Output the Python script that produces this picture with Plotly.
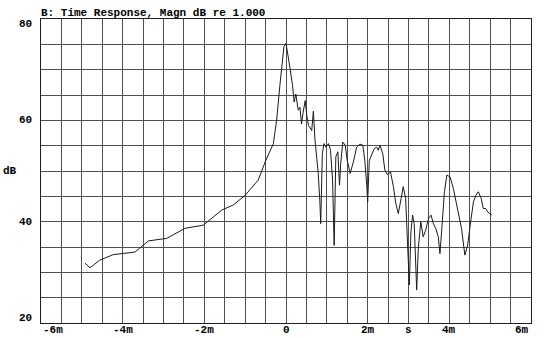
import plotly.graph_objects as go

# time in ms, magnitude in dB
time_ms = [-4.92, -4.80, -4.56, -4.23, -3.70, -3.37, -2.92, -2.47, -2.03, -1.57, -1.29, -1.00,
           -0.68, -0.51, -0.31, -0.23, -0.15, -0.08, -0.05, 0.00, 0.03, 0.10, 0.16, 0.20, 0.24,
           0.30, 0.34, 0.38, 0.42, 0.47, 0.51, 0.55, 0.63, 0.67, 0.71, 0.79, 0.83, 0.85, 0.89,
           0.93, 0.98, 1.04, 1.09, 1.14, 1.18, 1.22, 1.27, 1.31, 1.34, 1.39, 1.45, 1.50, 1.57,
           1.65, 1.73, 1.81, 1.88, 1.93, 1.98, 2.00, 2.04, 2.10, 2.16, 2.22, 2.26, 2.30, 2.37,
           2.42, 2.48, 2.56, 2.63, 2.69, 2.75, 2.82, 2.87, 2.93, 3.00, 3.02, 3.06, 3.10, 3.14,
           3.18, 3.20, 3.24, 3.30, 3.36, 3.42, 3.49, 3.55, 3.61, 3.67, 3.73, 3.77, 3.81, 3.88,
           3.94, 4.02, 4.10, 4.22, 4.30, 4.38, 4.45, 4.51, 4.59, 4.65, 4.71, 4.78, 4.83, 4.89,
           4.94, 5.04]
magn_db = [31.8, 30.9, 32.4, 33.5, 34.0, 36.2, 36.7, 38.7, 39.3, 42.3, 43.3, 45.2,
           48.2, 51.8, 55.4, 60.0, 66.9, 72.8, 74.6, 75.2, 73.8, 70.2, 66.9, 63.6, 65.2,
           62.0, 62.6, 59.3, 61.6, 63.9, 60.9, 59.0, 58.0, 61.8, 56.1, 49.5, 43.9, 39.6, 53.4,
           55.4, 54.7, 55.4, 54.1, 48.2, 35.3, 52.8, 53.8, 47.2, 51.5, 55.7, 55.1, 52.1, 49.5,
           51.8, 54.7, 55.3, 55.1, 52.1, 46.9, 43.9, 52.1, 53.4, 54.4, 54.7, 54.1, 55.1, 53.4,
           50.2, 49.3, 49.8, 46.9, 43.6, 41.6, 44.6, 46.9, 44.6, 31.4, 27.5, 38.0, 41.3, 39.6,
           32.1, 26.5, 34.7, 40.0, 37.0, 38.3, 40.6, 41.3, 39.6, 38.6, 37.0, 33.7, 38.0, 45.9,
           49.2, 48.8, 46.5, 41.9, 38.6, 33.4, 35.4, 39.3, 43.9, 45.2, 45.9, 44.6, 42.6, 42.6,
           41.9, 41.3]

x_tick_vals = [-6, -4, -2, 0, 2, 3, 4, 6]
x_tick_text = ["-6m", "-4m", "-2m", "0", "2m", "s", "4m", "6m"]
y_tick_vals = [80, 60, 40, 20]
y_tick_text = ["80", "60", "40", "20"]
y_unit_label = "dB"
y_unit_pos = 50
title_text = "B: Time Response, Magn dB re 1.000"

FONT = "Liberation Mono"
fig = go.Figure()
fig.add_trace(go.Scatter(x=time_ms, y=magn_db, mode="lines",
                         line=dict(color="#1a1a1a", width=1), hoverinfo="skip"))

annotations = []
for v, t in zip(x_tick_vals, x_tick_text):
    anchor = "center"
    if v == x_tick_vals[0]:
        anchor = "left"
    elif v == x_tick_vals[-1]:
        anchor = "right"
    annotations.append(dict(x=v, y=0, xref="x", yref="paper", text=t, showarrow=False,
                            xanchor=anchor, yanchor="top", yshift=1,
                            font=dict(family=FONT, size=11, color="black", weight="bold")))
for v, t in zip(y_tick_vals, y_tick_text):
    anchor = "middle"
    ys = 0
    if v == max(y_tick_vals):
        ys = -5
    elif v == min(y_tick_vals):
        ys = 5
    annotations.append(dict(x=0, y=v, xref="paper", yref="y", text=t, showarrow=False,
                            xanchor="right", yanchor="middle", xshift=-7, yshift=ys,
                            font=dict(family=FONT, size=11, color="black", weight="bold")))
annotations.append(dict(x=0, y=y_unit_pos, xref="paper", yref="y", text=y_unit_label,
                        showarrow=False, xanchor="right", yanchor="middle", xshift=-22,
                        font=dict(family=FONT, size=11, color="black", weight="bold")))
annotations.append(dict(x=0, y=1, xref="paper", yref="paper", text=title_text,
                        showarrow=False, xanchor="left", yanchor="bottom", xshift=-2, yshift=-2,
                        font=dict(family=FONT, size=11, color="black", weight="bold")))

fig.update_layout(
    width=544, height=338,
    margin=dict(l=41, r=13, t=19, b=15),
    paper_bgcolor="white", plot_bgcolor="white",
    showlegend=False,
    annotations=annotations,
    xaxis=dict(range=[-6, 6], dtick=0.5, tick0=0, showgrid=True, gridcolor="#505050",
               gridwidth=1, showticklabels=False, ticks="", zeroline=False,
               showline=True, linecolor="#202020", linewidth=1, mirror=True, fixedrange=True),
    yaxis=dict(range=[20, 80], dtick=5, tick0=0, showgrid=True, gridcolor="#505050",
               gridwidth=1, showticklabels=False, ticks="", zeroline=False,
               showline=True, linecolor="#202020", linewidth=1, mirror=True, fixedrange=True),
)

fig.write_html("out.html", config={"displayModeBar": False})
